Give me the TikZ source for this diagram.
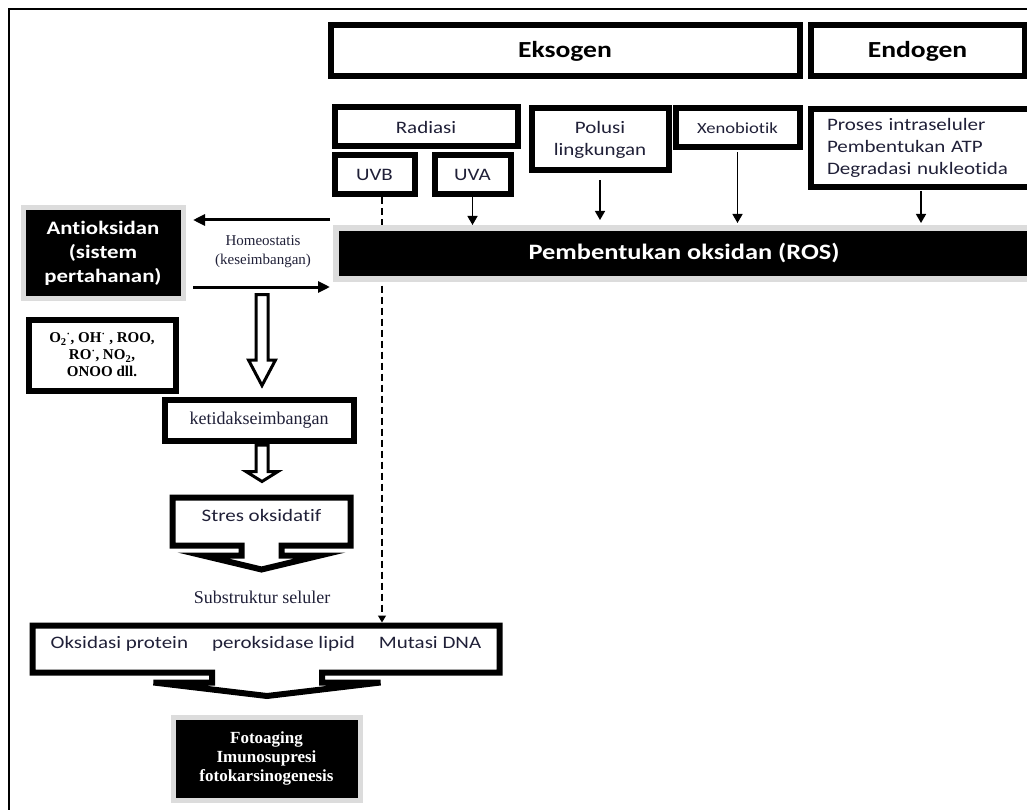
\documentclass[tikz,border=0pt]{standalone}
\usepackage{fontspec}
\setmainfont{Liberation Serif}
\setsansfont{Carlito}[FakeStretch=1.2, Ligatures=NoCommon]
\usepackage{xcolor}
\usetikzlibrary{arrows.meta,calc}
\definecolor{tinta}{HTML}{202038}
\definecolor{bayang}{HTML}{DCDCDC}

\begin{document}
\begin{tikzpicture}[x=1pt, y=-1pt,
		kotak/.style={draw, line width=6pt, fill=white, inner sep=0pt, align=center,
			text=tinta, font=\sffamily\fontsize{17.5}{22}\selectfont},
		judul/.style={kotak, text=black, font=\sffamily\bfseries\fontsize{23}{28}\selectfont},
		hitam/.style={draw=bayang, line width=5pt, fill=black, text=white, inner sep=0pt, align=center},
		panah/.style={line width=1.4pt, -{Triangle[width=10pt,length=9pt]}},
		panahtebal/.style={line width=3pt, -{Triangle[width=11pt,length=12pt]}},
		putus/.style={line width=1.2pt, dash pattern=on 7pt off 4pt, -{Triangle[width=8pt,length=7pt]}},
		putih/.style={draw, line width=3pt, fill=white, line join=miter},
		serif/.style={text=tinta, align=center, font=\rmfamily\fontsize{15}{19}\selectfont}
	]
		\useasboundingbox (0,0) rectangle (1027,810);
		\clip (0,0) rectangle (1027,810);
		\draw [line width=1.6pt] (9,830) -- (9,9) -- (1040,9);
		%
		\node [judul, minimum width=469pt, minimum height=51pt] (eksogen) at (565,51) {Eksogen};
		\node [judul, minimum width=214pt, minimum height=51pt] (endogen) at (917.5,51) {Endogen};
		%
		\node [kotak, minimum width=183pt, minimum height=39pt] (radiasi) at (426,127) {Radiasi};
		\node [kotak, minimum width=80pt, minimum height=39pt] (uvb) at (374.5,175) {UVB};
		\node [kotak, minimum width=76pt, minimum height=39pt] (uva) at (472.5,175) {UVA};
		\node [kotak, minimum width=137pt, minimum height=62pt] (polusi) at (600,139.5) {Polusi\\lingkungan};
		\node [kotak, minimum width=124pt, minimum height=39pt,
			font=\sffamily\fontsize{15.5}{19}\selectfont] (xeno) at (737.5,128) {Xenobiotik};
		\node [kotak, anchor=north west, minimum height=78pt, text width=220pt, inner xsep=16pt,
			align=left] (proses) at (808,106) {Proses intraseluler\\Pembentukan ATP\\Degradasi nukleotida};
		%
		\node [hitam, minimum width=160pt, minimum height=90pt,
			font=\sffamily\bfseries\fontsize{19}{24}\selectfont] (antiok) at (103,253) {Antioksidan\\(sistem\\pertahanan)};
		\node [serif] (homeo) at (263,252) {Homeostatis\\(keseimbangan)};
		\node [kotak, minimum width=147pt, minimum height=71pt, text=black,
			font=\rmfamily\bfseries\fontsize{15}{17}\selectfont] (radikal) at (102,355)
			{O\textsubscript{2}\textsuperscript{·}, OH\textsuperscript{·} , ROO,\\RO\textsuperscript{·}, NO\textsubscript{2},\\ONOO dll.};
		\node [kotak, minimum width=189pt, minimum height=41pt,
			font=\rmfamily\fontsize{18}{22}\selectfont] (ketidak) at (259,420) {ketidakseimbangan};
		\node [kotak, draw=none, fill=none, outer sep=0pt, minimum width=178pt, minimum height=48pt,
			text depth=12pt] (stres) at (261.5,521.5) {Stres oksidatif};
		\node [serif, font=\rmfamily\fontsize{18}{22}\selectfont] (substruktur) at (262,597) {Substruktur seluler};
		\node [kotak, draw=none, fill=none, outer sep=0pt, minimum width=467pt, minimum height=47pt,
			text depth=14pt] (sel) at (266,649) {Oksidasi protein\hspace{24pt}peroksidase lipid\hspace{24pt}Mutasi DNA};
		\node [hitam, minimum width=187pt, minimum height=83pt,
			font=\rmfamily\bfseries\fontsize{17}{19}\selectfont] (foto) at (266.5,758.5) {Fotoaging\\Imunosupresi\\fotokarsinogenesis};
		%
		\coordinate (sumbu-putus) at (382,0);
		\draw [putus, shorten >=3pt] (uvb.south -| sumbu-putus) -- (sel.north -| sumbu-putus);
		%
		\node [hitam, line width=6pt, minimum width=696pt, minimum height=50.5pt,
			font=\sffamily\bfseries\fontsize{22}{26}\selectfont] (ros) at (684,253.25) {Pembentukan oksidan (ROS)};
		%
		\draw [panah] (uva.south) -- (uva.south |- ros.north);
		\draw [panah, shorten <=7pt, shorten >=5pt] (polusi.south) -- (polusi.south |- ros.north);
		\draw [panah, shorten <=2pt, shorten >=2pt] (xeno.south) -- (xeno.south |- ros.north);
		\coordinate (proses-bawah) at ($(proses.south west)+(113,1)$);
		\draw [panah, shorten >=2pt] (proses-bawah) -- (proses-bawah |- ros.north);
		%
		\coordinate (h-atas) at (330,220);
		\coordinate (h-bawah) at (330,287);
		\draw [panahtebal, shorten >=7.5pt] (h-atas) -- (antiok.east |- h-atas);
		\draw [panahtebal, shorten <=7.5pt] (antiok.east |- h-bawah) -- (h-bawah);
		%
		\coordinate (homeo-bawah) at (262,294.5);
		\draw [putih] ($(homeo-bawah)+(-6,0)$) -- ++(12,0) -- ++(0,65.5) -- ++(7.5,0)
			-- ++(-13.5,25.5) -- ++(-13.5,-25.5) -- ++(7.5,0) -- cycle;
		\draw [putih] ($(ketidak.south)+(-3,1.5)$) -- ++(12,0) -- ++(0,26.5) -- ++(10,0)
			-- ++(-16,10) -- ++(-16,-10) -- ++(10,0) -- cycle;
		%
		\draw [line width=6pt, line join=miter] (stres.north west) -- (stres.north east) -- (stres.south east)
			-- ($(stres.south)+(20,0)$) -- ++(0,10) -- ++(38.5,0) -- ++(-58.5,14) -- ++(-58.5,-14)
			-- ++(38.5,0) -- ++(0,-10) -- (stres.south west) -- cycle;
		\draw [line width=6pt, line join=miter] (sel.north west) -- (sel.north east) -- (sel.south east)
			-- ($(sel.south)+(56,0)$) -- ++(0,10) -- ++(58.5,0) -- ++(-113.5,13.5) -- ++(-113.5,-13.5)
			-- ++(58.5,0) -- ++(0,-10) -- (sel.south west) -- cycle;
	\end{tikzpicture}
\end{document}
